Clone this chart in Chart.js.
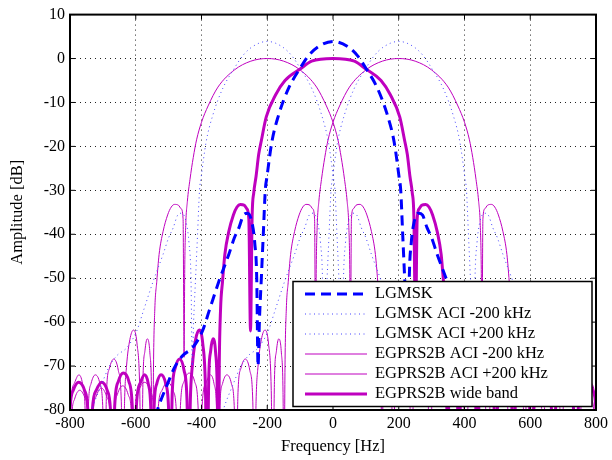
<!DOCTYPE html>
<html>
<head>
<meta charset="utf-8">
<script src="https://cdn.jsdelivr.net/npm/chart.js@4.4.1/dist/chart.umd.min.js"></script>
<style>
  html, body { margin: 0; padding: 0; background: #fff; }
  #wrap { width: 612px; height: 460px; }
</style>
</head>
<body>
<div id="wrap"><canvas id="spectrum" width="612" height="460"></canvas></div>
<script>
// Axis ticks
const xTickValues = [-800, -600, -400, -200, 0, 200, 400, 600, 800];
const yTickValues = [-80, -70, -60, -50, -40, -30, -20, -10, 0, 10];

// Legend labels
const seriesLabels = [
  'LGMSK',
  'LGMSK ACI -200 kHz',
  'LGMSK ACI +200 kHz',
  'EGPRS2B ACI -200 kHz',
  'EGPRS2B ACI +200 kHz',
  'EGPRS2B wide band'
];

// Adjacent channel offsets
const aciCentersHz = [-200, 200];

// LGMSK spectrum (offset from carrier in Hz, level in dB)
const lgmskOffsetHz = [0, 45, 75, 100, 136, 166, 186, 201, 206, 212,
  218, 224, 228, 232, 238, 246, 260, 272, 286, 300,
  317, 347, 377, 397, 427, 457, 482, 503, 534, 560,
  650, 1000];
const lgmskDb = [3.9, 2.7, 0.6, -2.2, -6.9, -13, -19, -27, -30, -40,
  -50, -60, -70, -50, -42, -37.5, -35.2, -35.6, -38.5, -40.8,
  -44.6, -50.7, -57.5, -62, -65.8, -67.6, -70.3, -74, -80, -87,
  -100, -115];

// EGPRS2B wide band main lobe
const widebandOffsetHz = [0, 65, 100, 146, 174, 203, 218, 226, 234, 241, 246, 251];
const widebandDb = [0, -0.6, -2.4, -5, -8.2, -13.3, -18.7, -21.8, -26.8, -30.5, -36, -62];

// EGPRS2B ACI main lobe (narrower)
const aciMainOffsetHz = [0, 50, 100, 150, 180, 200, 215, 225, 235, 243, 248, 251, 253];
const aciMainDb = [0, -0.6, -2.6, -6.5, -10.8, -14.5, -18.5, -22.5, -27.5, -32.5, -38, -48, -68];

// EGPRS2B side lobes (same for wide band and ACI curves)
const sidelobeOffsetHz = [
  256, 262, 270, 282, 292, 303, 317, 329, 336, 342, 346, 349,
  352, 357, 365, 372, 378, 383,
  388, 396, 407, 418, 428, 434, 439,
  444, 453, 467, 480, 489, 495,
  500, 509, 523, 536, 544, 549,
  554, 562, 573, 586, 598, 604,
  610, 621, 638, 653, 664, 670,
  676, 687, 704, 720, 732, 739,
  745, 756, 774, 790, 800, 806,
  812, 823, 840, 856, 865, 871,
  877, 888, 905, 921, 930, 936,
  942, 953, 970, 986, 995, 1001
];
const sidelobeDb = [
  -36.5, -34.2, -33.4, -33.2, -33.8, -35.6, -39.4, -44.6, -50.7, -57, -70, -100,
  -76, -67, -63.8, -66.5, -73, -100,
  -75, -65, -61.8, -64, -70, -78, -100,
  -78, -71, -68.4, -70.5, -76, -100,
  -80, -74, -72, -74, -79, -100,
  -80, -74, -72, -73.8, -79, -100,
  -80, -73.5, -71.6, -73.5, -79, -100,
  -81, -75.5, -73.7, -75.5, -80, -100,
  -81, -75.5, -73.7, -75.5, -80, -100,
  -82, -76.5, -74.5, -76.5, -81, -100,
  -82, -77, -75, -77, -81, -100,
  -82, -77.5, -75.5, -77.5, -82, -100
];

// spectra are symmetric around their carrier
function mirrored(offsets, dbs, center) {
  const pts = [];
  for (let i = offsets.length - 1; i > 0; i--) pts.push({ x: center - offsets[i], y: dbs[i] });
  for (let i = 0; i < offsets.length; i++) pts.push({ x: center + offsets[i], y: dbs[i] });
  return pts;
}

const egprsOffsets = aciMainOffsetHz.concat(sidelobeOffsetHz);
const egprsDb = aciMainDb.concat(sidelobeDb);
const wideOffsets = widebandOffsetHz.concat(sidelobeOffsetHz);
const wideDb = widebandDb.concat(sidelobeDb);

const BLUE = '#0000ff';
const LIGHT_BLUE = '#4646ff';
const MAGENTA = '#bf00bf';

const datasets = [
  { label: seriesLabels[0], data: mirrored(lgmskOffsetHz, lgmskDb, 0),
    borderColor: BLUE, borderWidth: 3, borderDash: [10, 6] },
  { label: seriesLabels[1], data: mirrored(lgmskOffsetHz, lgmskDb, aciCentersHz[0]),
    borderColor: LIGHT_BLUE, borderWidth: 1, borderDash: [1, 3.5] },
  { label: seriesLabels[2], data: mirrored(lgmskOffsetHz, lgmskDb, aciCentersHz[1]),
    borderColor: LIGHT_BLUE, borderWidth: 1, borderDash: [1, 3.5] },
  { label: seriesLabels[3], data: mirrored(egprsOffsets, egprsDb, aciCentersHz[0]),
    borderColor: MAGENTA, borderWidth: 1 },
  { label: seriesLabels[4], data: mirrored(egprsOffsets, egprsDb, aciCentersHz[1]),
    borderColor: MAGENTA, borderWidth: 1 },
  { label: seriesLabels[5], data: mirrored(wideOffsets, wideDb, 0),
    borderColor: MAGENTA, borderWidth: 3 }
];
datasets.forEach(ds => { ds.clip = 0; ds.fill = false; });

// box around the axes with inward tick marks
const framePlugin = {
  id: 'frame',
  afterDraw(chart) {
    const { ctx, chartArea: a, scales } = chart;
    ctx.save();
    ctx.strokeStyle = '#000';
    ctx.lineWidth = 1;
    ctx.beginPath();
    xTickValues.forEach(v => {
      const px = scales.x.getPixelForValue(v);
      ctx.moveTo(px, a.bottom); ctx.lineTo(px, a.bottom - 5);
      ctx.moveTo(px, a.top); ctx.lineTo(px, a.top + 5);
    });
    yTickValues.forEach(v => {
      const py = scales.y.getPixelForValue(v);
      ctx.moveTo(a.left, py); ctx.lineTo(a.left + 5, py);
      ctx.moveTo(a.right, py); ctx.lineTo(a.right - 5, py);
    });
    ctx.stroke();
    ctx.lineWidth = 2;
    ctx.strokeRect(a.left, a.top, a.right - a.left, a.bottom - a.top);
    ctx.restore();
  }
};

// MATLAB style legend box in the lower right corner
const legendPlugin = {
  id: 'boxLegend',
  afterDraw(chart) {
    const { ctx, chartArea: a } = chart;
    const w = 299, h = 125;
    const left = a.right - 4 - w;
    const top = a.bottom - 3.5 - h;
    ctx.save();
    ctx.fillStyle = '#fff';
    ctx.fillRect(left, top, w, h);
    ctx.strokeStyle = '#000';
    ctx.lineWidth = 1.5;
    ctx.strokeRect(left, top, w, h);
    ctx.font = '16.5px "Liberation Serif"';
    ctx.textBaseline = 'middle';
    chart.data.datasets.forEach((ds, i) => {
      const y = top + 12.5 + i * 20;
      ctx.beginPath();
      ctx.setLineDash(ds.borderDash || []);
      ctx.strokeStyle = ds.borderColor;
      ctx.lineWidth = ds.borderWidth;
      ctx.moveTo(left + 12, y);
      ctx.lineTo(left + 74, y);
      ctx.stroke();
      ctx.setLineDash([]);
      ctx.fillStyle = '#000';
      ctx.fillText(ds.label, left + 82, y);
    });
    ctx.restore();
  }
};

Chart.defaults.font.family = '"Liberation Serif", "Times New Roman", serif';
Chart.defaults.font.size = 16;
Chart.defaults.color = '#000';

const ctx = document.getElementById('spectrum').getContext('2d');
new Chart(ctx, {
  type: 'line',
  data: { datasets },
  options: {
    responsive: false,
    animation: false,
    layout: { padding: { top: 12, right: 13, left: 0, bottom: 0 } },
    elements: {
      point: { radius: 0, hoverRadius: 0 },
      line: { cubicInterpolationMode: 'monotone', fill: false }
    },
    plugins: { legend: { display: false }, tooltip: { enabled: false } },
    events: [],
    scales: {
      x: {
        type: 'linear',
        min: -800,
        max: 800,
        afterBuildTicks: s => { s.ticks = xTickValues.map(v => ({ value: v })); },
        afterFit: s => { s.height = 50; },
        ticks: { padding: 4, maxRotation: 0, callback: v => String(v) },
        grid: { color: '#222', lineWidth: 1, drawTicks: false },
        border: { display: false, dash: [1, 4] },
        title: { display: true, text: 'Frequency [Hz]', font: { size: 16.5 }, padding: { top: 0, bottom: 3 } }
      },
      y: {
        type: 'linear',
        min: -80,
        max: 10,
        afterBuildTicks: s => { s.ticks = yTickValues.map(v => ({ value: v })); },
        afterFit: s => { s.width = 70; },
        ticks: { padding: 5, callback: v => String(v) },
        grid: { color: '#222', lineWidth: 1, drawTicks: false },
        border: { display: false, dash: [1, 4] },
        title: { display: true, text: 'Amplitude [dB]', font: { size: 16.5 }, padding: { top: 8, bottom: 0 } }
      }
    }
  },
  plugins: [framePlugin, legendPlugin]
});
</script>
</body>
</html>
